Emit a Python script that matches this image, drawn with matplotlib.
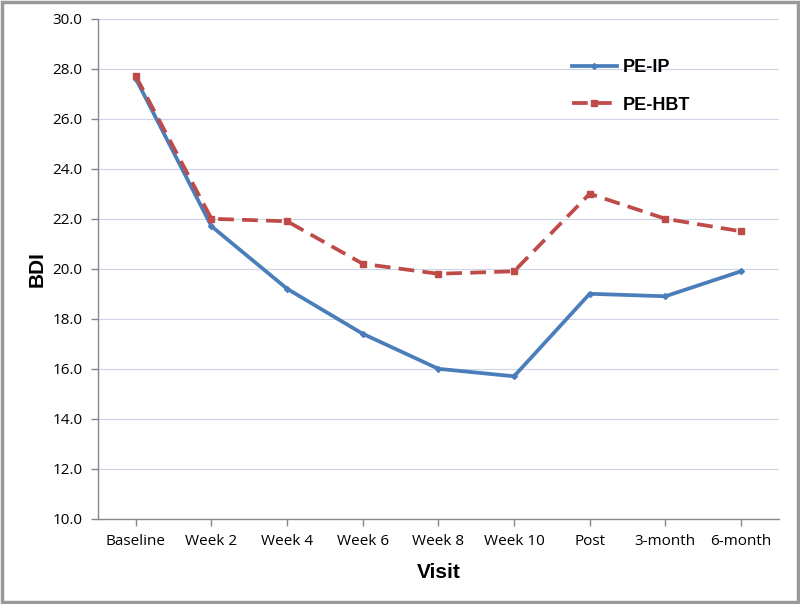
import matplotlib
matplotlib.use("Agg")
import matplotlib.pyplot as plt
from matplotlib.patches import Rectangle

visits = ["Baseline", "Week 2", "Week 4", "Week 6", "Week 8", "Week 10", "Post", "3-month", "6-month"]
pe_ip = [27.6, 21.7, 19.2, 17.4, 16.0, 15.7, 19.0, 18.9, 19.9]
pe_hbt = [27.7, 22.0, 21.9, 20.2, 19.8, 19.9, 23.0, 22.0, 21.5]
yticks = [10.0, 12.0, 14.0, 16.0, 18.0, 20.0, 22.0, 24.0, 26.0, 28.0, 30.0]

fig = plt.figure(figsize=(8, 6.04), dpi=100)
ax = fig.add_axes([0.1225, 0.141, 0.851, 0.828])

x = list(range(len(visits)))
ax.plot(x, pe_ip, color="#4a7ebb", lw=2.7, marker="D", ms=3, label="PE-IP", zorder=3)
ax.plot(x, pe_hbt, color="#be4b48", lw=2.7, ls=(0, (4.2, 2.2)), marker="s", ms=4, label="PE-HBT", zorder=3)

ax.set_xlim(-0.5, len(visits) - 0.5)
ax.set_ylim(10, 30)
ax.set_yticks(yticks)
ax.set_yticklabels([f"{v:.1f}" for v in yticks], fontsize=11, family="Open Sans")
ax.set_xticks(x)
ax.set_xticklabels(visits, fontsize=11, family="Open Sans")
ax.tick_params(axis="both", color="#888888", length=5, width=1)
ax.tick_params(axis="x", pad=6)
ax.tick_params(axis="y", pad=6)
ax.yaxis.grid(True, color="#cdd4e8", lw=0.8)
ax.set_axisbelow(True)
for s in ["top", "right"]:
    ax.spines[s].set_visible(False)
for s in ["left", "bottom"]:
    ax.spines[s].set_color("#888888")
    ax.spines[s].set_linewidth(1)

ax.set_xlabel("Visit", fontsize=15, fontweight="bold", family="Liberation Sans", labelpad=10)
ax.set_ylabel("BDI", fontsize=15, fontweight="bold", family="Liberation Sans", labelpad=4)

leg = ax.legend(loc="upper left", bbox_to_anchor=(0.672, 0.952), frameon=False,
                prop={"family": "Liberation Sans", "weight": "bold", "size": 13},
                handlelength=2.5, labelspacing=1.15, handletextpad=0.3)

fig.add_artist(Rectangle((0.002, 0.003), 0.996, 0.994, transform=fig.transFigure,
                         fill=False, edgecolor="#999999", lw=2.5))

fig.savefig("out.png", dpi=100)
